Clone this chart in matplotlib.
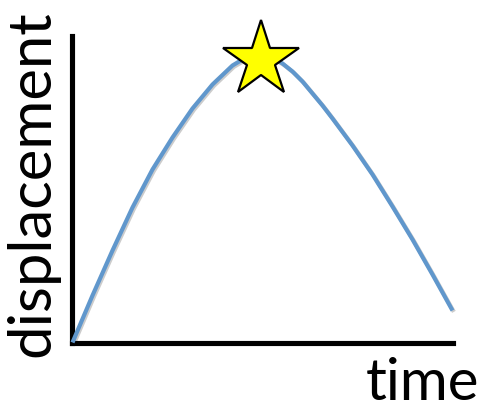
import matplotlib
matplotlib.use("Agg")
import matplotlib.pyplot as plt
import matplotlib.patheffects as pe

# values (arbitrary units)
time = [0, 20, 40, 60, 80, 100, 120, 140, 160, 170, 180, 190, 200, 210, 220, 230,
        240, 250, 260, 280, 300, 320, 340, 360, 380]
displacement = [0, 47, 92, 135, 173, 205, 234, 258, 277, 283, 287, 288, 285, 279, 271, 261,
                249, 237, 224, 197, 168, 136, 103, 68, 32]
peak_time = [189]
peak_disp = [282.5]
x_label = "time"
y_label = "displacement"

W, H = 485, 412
fig = plt.figure(figsize=(W / 100, H / 100), dpi=100)
x0, x1 = 72.5, 453.0
y0, y1 = 342.5, 36.0
ax = fig.add_axes([x0 / W, (H - y0) / H, (x1 - x0) / W, (y0 - y1) / H])
ax.set_xlim(0, 380.5)
ax.set_ylim(0, 306.5)
ax.patch.set_alpha(0)
for s in ("top", "right"):
    ax.spines[s].set_visible(False)
shadow = [pe.SimpleLineShadow(offset=(1.0, -1.0), alpha=0.2, shadow_color="black"), pe.Normal()]
for s in ("left", "bottom"):
    ax.spines[s].set_linewidth(3.7)
    ax.spines[s].set_color("black")
    ax.spines[s].set_path_effects([pe.SimplePatchShadow(offset=(1.2, -1.2), alpha=0.25), pe.Normal()])
ax.spines["bottom"].set_capstyle("projecting")
ax.set_xticks([])
ax.set_yticks([])

ax.plot(time, displacement, color="#6097cc", lw=3.0, solid_capstyle="butt",
        solid_joinstyle="round", path_effects=shadow, clip_on=False, zorder=3)
ax.plot(peak_time, peak_disp, marker="*", markersize=57, markerfacecolor="#ffff00",
        markeredgecolor="black", markeredgewidth=1.6, linestyle="none", clip_on=False, zorder=4)

fig.text(32.5 / W, 1 - 183.5 / H, y_label, rotation=90, ha="center", va="center",
         fontsize=43, family="Lato", color="black")
fig.text(423 / W, 1 - 400 / H, x_label, ha="center", va="baseline",
         fontsize=42, family="Lato", color="black")

fig.savefig("out.png", dpi=100)
